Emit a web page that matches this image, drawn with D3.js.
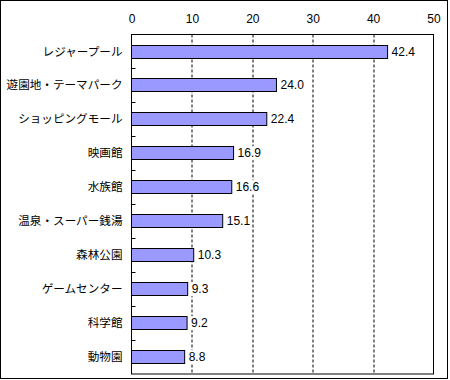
<!DOCTYPE html>
<html>
<head>
<meta charset="utf-8">
<script src="https://cdn.jsdelivr.net/npm/d3@7"></script>
<style>
  body { margin: 0; background: #fff; }
  svg text { font-family: "Noto Sans CJK JP", "Noto Sans", sans-serif; }
</style>
</head>
<body>
<div id="chart-container"></div>
<script>
// Data
const categories = ["レジャープール", "遊園地・テーマパーク", "ショッピングモール", "映画館", "水族館",
  "温泉・スーパー銭湯", "森林公園", "ゲームセンター", "科学館", "動物園"];
const values = [42.4, 24.0, 22.4, 16.9, 16.6, 15.1, 10.3, 9.3, 9.2, 8.8];
const tickValues = [0, 10, 20, 30, 40, 50];

const data = categories.map((c, i) => ({name: c, value: values[i]}));

// Dimensions
const W = 450, H = 380;
const margin = {top: 34.5, right: 16.5, bottom: 5.5, left: 131.5};
const width = W - margin.left - margin.right;
const height = H - margin.top - margin.bottom - 0.5;

const svg = d3.select("#chart-container")
  .append("svg")
    .attr("width", W)
    .attr("height", H);

// outer border
svg.append("rect")
  .attr("x", 0.5).attr("y", 0.5)
  .attr("width", 447).attr("height", 378)
  .attr("fill", "#fff")
  .attr("stroke", "#000");

const g = svg.append("g")
  .attr("transform", `translate(${margin.left}, ${margin.top})`);

// Scales
const x = d3.scaleLinear().domain([0, 50]).range([0, width]);
const y = d3.scaleBand().domain(categories).range([0, height]).paddingInner(0.62).paddingOuter(0.31);
const band = d3.scaleBand().domain(categories).range([0, height]);

// Vertical dashed gridlines
g.selectAll(".xGrid")
  .data(tickValues.slice(1, -1))
  .join("line")
  .attr("x1", d => Math.round(x(d)) + 0.5)
  .attr("x2", d => Math.round(x(d)) + 0.5)
  .attr("y1", 0)
  .attr("y2", height)
  .attr("stroke", "#000")
  .attr("stroke-dasharray", "3,2");

// Top tick labels
g.append("g")
  .call(d3.axisTop(x).tickValues(tickValues).tickSize(0).tickPadding(12))
  .call(a => a.select(".domain").remove())
  .selectAll("text")
  .attr("font-size", 12)
  .attr("fill", "#000")
  .style("font-family", "'Liberation Sans', Arial, sans-serif");

// Bars
g.selectAll(".bar")
  .data(data)
  .join("rect")
  .attr("x", 0)
  .attr("y", d => Math.round(y(d.name)))
  .attr("width", d => x(d.value))
  .attr("height", 13)
  .attr("fill", "#9999FF")
  .attr("stroke", "#000");

// Value labels with white background
const vals = g.selectAll(".val")
  .data(data)
  .join("g")
  .attr("transform", d => `translate(${x(d.value) + 4}, ${Math.round(y(d.name)) + 6.5})`);

vals.append("text")
  .attr("dy", "0.35em")
  .attr("font-size", 12)
  .style("font-family", "'Liberation Sans', Arial, sans-serif")
  .text(d => d.value.toFixed(1));

vals.each(function() {
  const t = d3.select(this).select("text");
  const b = t.node().getBBox();
  d3.select(this).insert("rect", "text")
    .attr("x", b.x - 1).attr("y", b.y)
    .attr("width", b.width + 2).attr("height", b.height)
    .attr("fill", "#fff");
});

// Frame
g.append("rect")
  .attr("width", width).attr("height", height)
  .attr("fill", "none")
  .attr("stroke", "#000");

// Y axis ticks at band boundaries (pointing inward)
g.selectAll(".ytick")
  .data(categories.slice(1))
  .join("line")
  .attr("x1", 0).attr("x2", 4)
  .attr("y1", d => Math.round(band(d)))
  .attr("y2", d => Math.round(band(d)))
  .attr("stroke", "#000");

// Category labels
g.selectAll(".cat")
  .data(categories)
  .join("text")
  .attr("x", -9)
  .attr("y", d => band(d) + band.bandwidth() / 2)
  .attr("dy", "0.35em")
  .attr("text-anchor", "end")
  .attr("font-size", 11.6)
  .text(d => d);
</script>
</body>
</html>
